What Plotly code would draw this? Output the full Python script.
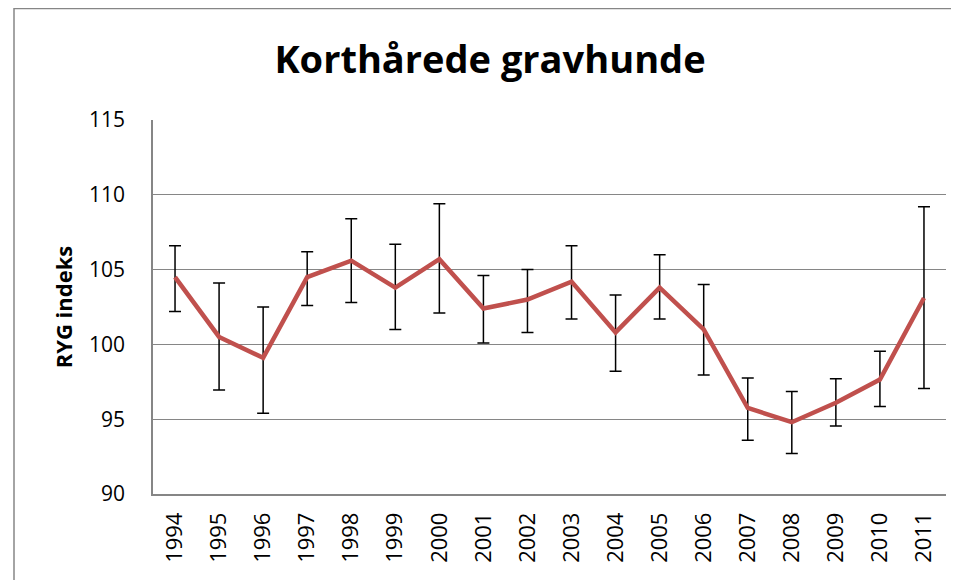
import plotly.graph_objects as go

years = ["1994", "1995", "1996", "1997", "1998", "1999", "2000", "2001", "2002",
         "2003", "2004", "2005", "2006", "2007", "2008", "2009", "2010", "2011"]
index_values = [104.5, 100.5, 99.1, 104.5, 105.6, 103.8, 105.7, 102.4, 103.0,
                104.2, 100.8, 103.8, 101.0, 95.75, 94.8, 96.1, 97.65, 103.1]
upper_bound = [106.6, 104.1, 102.5, 106.2, 108.4, 106.7, 109.4, 104.6, 105.0,
               106.6, 103.3, 106.0, 104.0, 97.75, 96.85, 97.7, 99.55, 109.2]
lower_bound = [102.2, 96.95, 95.4, 102.6, 102.8, 101.0, 102.1, 100.1, 100.8,
               101.7, 98.2, 101.7, 97.95, 93.6, 92.7, 94.55, 95.85, 97.05]
y_ticks = [90, 95, 100, 105, 110, 115]

err_plus = [u - v for u, v in zip(upper_bound, index_values)]
err_minus = [v - l for v, l in zip(index_values, lower_bound)]

fig = go.Figure()
fig.add_trace(go.Scatter(
    x=years, y=index_values, mode="lines",
    line=dict(color="#C0504D", width=4.5),
    error_y=dict(type="data", symmetric=False, array=err_plus, arrayminus=err_minus,
                 color="black", thickness=1.5, width=6),
    showlegend=False,
))

# page body has an 8px margin; figure sized to fit the 959x580 window
W, H = 951, 572
L, R, T, B = 145, 13, 112, 86
pw, ph = W - L - R, H - T - B
def px_x(x):
    return (x - L) / pw
def px_y(y):
    return 1 - (y - T) / ph

fig.add_shape(type="path", xref="paper", yref="paper",
              path=f"M {px_x(6)} {px_y(620)} L {px_x(6)} {px_y(0.5)} L {px_x(980)} {px_y(0.5)}",
              line=dict(color="#868686", width=1.5))

fig.update_layout(
    width=W, height=H,
    margin=dict(l=L, r=R, t=T, b=B),
    paper_bgcolor="white", plot_bgcolor="white",
    title=dict(text="<b>Korthårede gravhunde</b>", x=(490 - 8) / W, xanchor="center",
               y=1 - 52 / H, yanchor="middle",
               font=dict(family="Open Sans", size=38, color="black")),
    xaxis=dict(type="category", range=[-0.5, len(years) - 0.5],
               showgrid=False, showline=True, linecolor="#868686",
               linewidth=1.5, ticks="", tickangle=-90, ticklabelstandoff=8,
               tickfont=dict(family="Open Sans", size=22, color="black")),
    yaxis=dict(range=[90, 115], tickvals=y_ticks, showgrid=True, gridcolor="#868686",
               gridwidth=1, showline=True, linecolor="#868686", linewidth=1.5,
               ticks="", ticklabelstandoff=22,
               tickfont=dict(family="Open Sans", size=21, color="black"),
               title=dict(text="<b>RYG indeks</b>", standoff=10,
                          font=dict(family="Open Sans", size=22, color="black")),
               zeroline=False),
)

fig.write_html("out.html")
